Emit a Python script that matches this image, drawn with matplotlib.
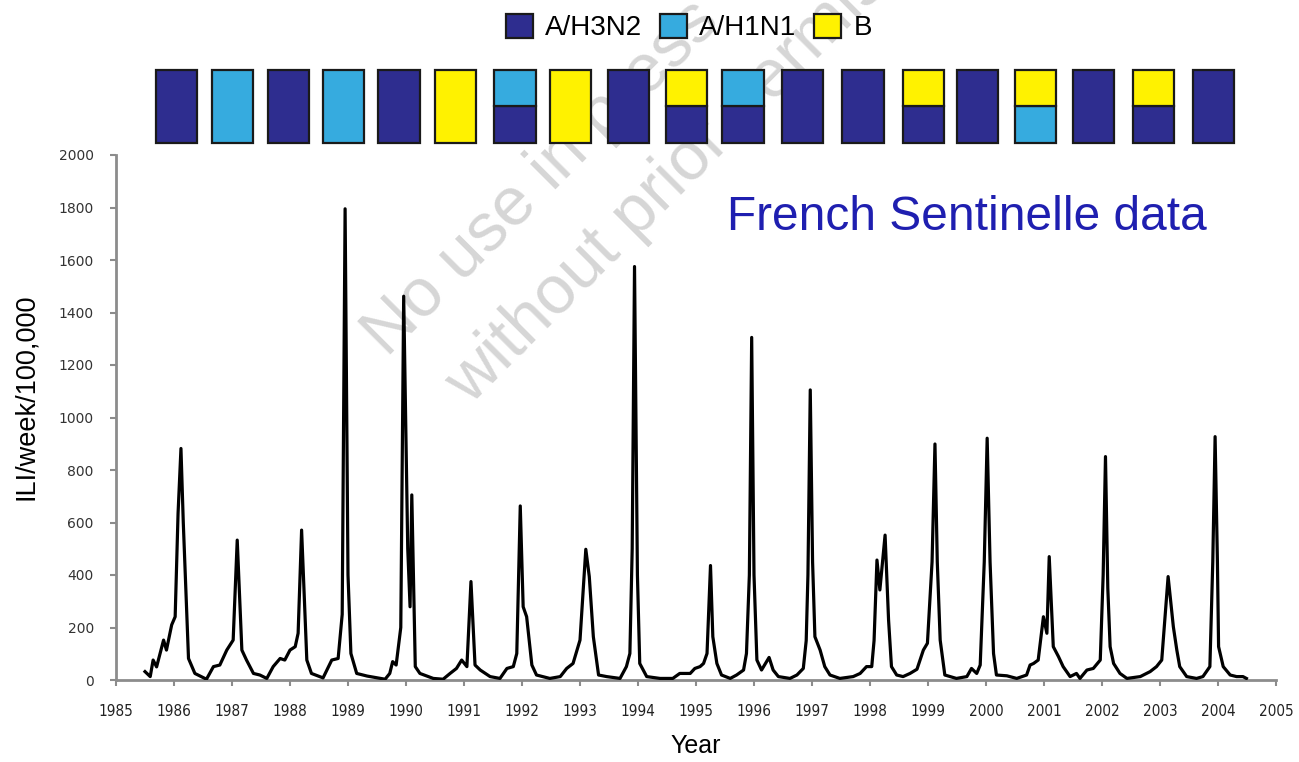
import matplotlib
matplotlib.use("Agg")
import matplotlib.pyplot as plt
import matplotlib.transforms as mtransforms
from matplotlib.patches import Rectangle, Patch

# weekly ILI incidence, read as (decimal year, cases per 100,000) turning points
years = [
    1985.50, 1985.59, 1985.64, 1985.70, 1985.82, 1985.87, 1985.96, 1986.02, 1986.07, 1986.12,
    1986.16, 1986.25, 1986.36, 1986.56, 1986.68, 1986.79, 1986.91, 1987.02, 1987.09, 1987.17,
    1987.25, 1987.37, 1987.48, 1987.60, 1987.71, 1987.83, 1987.91, 1988.00, 1988.09, 1988.14,
    1988.20, 1988.29, 1988.37, 1988.57, 1988.72, 1988.83, 1988.90, 1988.95, 1989.00, 1989.05,
    1989.15, 1989.33, 1989.64, 1989.72, 1989.77, 1989.83, 1989.91, 1989.96, 1990.03, 1990.07,
    1990.10, 1990.16, 1990.24, 1990.47, 1990.64, 1990.76, 1990.87, 1990.96, 1991.05, 1991.12,
    1991.19, 1991.28, 1991.45, 1991.62, 1991.74, 1991.85, 1991.91, 1991.97, 1992.02, 1992.08,
    1992.17, 1992.25, 1992.48, 1992.66, 1992.77, 1992.88, 1993.00, 1993.10, 1993.16, 1993.23,
    1993.32, 1993.46, 1993.69, 1993.80, 1993.86, 1993.90, 1993.94, 1993.99, 1994.03, 1994.15,
    1994.38, 1994.60, 1994.72, 1994.90, 1994.98, 1995.07, 1995.13, 1995.19, 1995.25, 1995.29,
    1995.36, 1995.44, 1995.59, 1995.70, 1995.82, 1995.87, 1995.92, 1995.96, 1996.00, 1996.05,
    1996.13, 1996.26, 1996.33, 1996.42, 1996.62, 1996.74, 1996.85, 1996.90, 1996.93, 1996.97,
    1997.01, 1997.05, 1997.14, 1997.22, 1997.31, 1997.48, 1997.71, 1997.83, 1997.94, 1998.03,
    1998.07, 1998.12, 1998.17, 1998.26, 1998.32, 1998.37, 1998.46, 1998.57, 1998.69, 1998.81,
    1998.92, 1998.99, 1999.07, 1999.12, 1999.16, 1999.21, 1999.29, 1999.49, 1999.67, 1999.75,
    1999.84, 1999.90, 1999.97, 2000.02, 2000.07, 2000.13, 2000.18, 2000.36, 2000.53, 2000.70,
    2000.76, 2000.82, 2000.90, 2000.99, 2001.05, 2001.09, 2001.16, 2001.25, 2001.33, 2001.45,
    2001.56, 2001.62, 2001.74, 2001.85, 2001.97, 2002.02, 2002.06, 2002.10, 2002.14, 2002.20,
    2002.31, 2002.43, 2002.66, 2002.83, 2002.94, 2003.03, 2003.14, 2003.23, 2003.29, 2003.34,
    2003.46, 2003.63, 2003.74, 2003.86, 2003.91, 2003.95, 2003.99, 2004.01, 2004.09, 2004.21,
    2004.32, 2004.43, 2004.49,
]
ili = [
    32, 13, 76, 50, 152, 114, 210, 241, 635, 882,
    600, 82, 25, 3, 51, 57, 114, 152, 533, 114,
    76, 25, 19, 6, 51, 82, 76, 114, 127, 178,
    571, 76, 25, 8, 76, 82, 250, 1795, 400, 101,
    25, 15, 3, 25, 70, 57, 200, 1462, 500, 279,
    705, 51, 25, 6, 3, 25, 44, 76, 51, 375,
    57, 38, 13, 6, 44, 51, 101, 663, 279, 241,
    57, 19, 6, 13, 44, 63, 152, 498, 394, 165,
    19, 13, 6, 51, 101, 500, 1575, 400, 63, 13,
    6, 6, 25, 25, 44, 51, 63, 101, 436, 165,
    63, 19, 6, 19, 38, 101, 400, 1305, 400, 76,
    38, 86, 38, 13, 6, 19, 44, 150, 400, 1105,
    450, 165, 114, 51, 19, 6, 13, 25, 51, 51,
    150, 457, 343, 552, 229, 51, 19, 13, 25, 41,
    114, 140, 450, 899, 450, 152, 19, 6, 13, 44,
    25, 57, 450, 921, 450, 101, 19, 16, 6, 19,
    57, 63, 76, 241, 178, 470, 127, 89, 51, 13,
    25, 6, 38, 44, 76, 400, 851, 350, 127, 63,
    25, 6, 13, 32, 51, 76, 394, 203, 114, 51,
    13, 6, 13, 51, 450, 927, 450, 127, 51, 19,
    13, 13, 6,
]

# dominant circulating subtypes per season (top part, bottom part)
season_top = ["H3N2", "H1N1", "H3N2", "H1N1", "H3N2", "B", "H1N1", "B", "H3N2", "B",
              "H1N1", "H3N2", "H3N2", "B", "H3N2", "B", "H3N2", "B", "H3N2"]
season_bottom = ["H3N2", "H1N1", "H3N2", "H1N1", "H3N2", "B", "H3N2", "B", "H3N2", "H3N2",
                 "H3N2", "H3N2", "H3N2", "H3N2", "H3N2", "H1N1", "H3N2", "H3N2", "H3N2"]
box_x = [1986.04, 1987.01, 1987.98, 1988.92, 1989.88, 1990.86, 1991.88, 1992.84, 1993.83, 1994.84,
         1995.81, 1996.84, 1997.88, 1998.92, 1999.86, 2000.85, 2001.86, 2002.89, 2003.92]

subtype_colors = {"H3N2": "#2e2d8f", "H1N1": "#36abdf", "B": "#fff200"}
subtype_labels = {"H3N2": "A/H3N2", "H1N1": "A/H1N1", "B": "B"}

W, H = 1299, 762
fig = plt.figure(figsize=(W / 100, H / 100), dpi=100)
ax = fig.add_axes([116 / W, 1 - 680 / H, 1160 / W, 525 / H])
ax.patch.set_alpha(0)

ax.plot(years, ili, color="black", lw=2.3, solid_joinstyle="round", zorder=3)

ax.set_xlim(1985, 2005)
ax.set_ylim(0, 2000)
ax.set_xticks(range(1985, 2006))
ax.set_yticks(range(0, 2001, 200))
for side in ["top", "right"]:
    ax.spines[side].set_visible(False)
for side in ["left", "bottom"]:
    ax.spines[side].set_color("#8c8c8c")
    ax.spines[side].set_linewidth(2)
ax.tick_params(axis="both", colors="#8c8c8c", width=1.5, length=4)
ax.tick_params(axis="x", pad=13, labelcolor="#222222")
ax.tick_params(axis="y", pad=12, labelcolor="#333333")
for lab in ax.get_xticklabels():
    lab.set_fontfamily("DejaVu Sans")
    lab.set_fontstretch("condensed")
    lab.set_fontsize(11)
for lab in ax.get_yticklabels():
    lab.set_fontfamily("DejaVu Sans")
    lab.set_fontsize(10)

ax.set_xlabel("Year", fontsize=18, family="Liberation Sans", labelpad=11)
ax.set_ylabel("ILI/week/100,000", fontsize=19.5, family="Liberation Sans")
ax.yaxis.set_label_coords(-0.066, 0.54)

ax.text(0.527, 0.88, "French Sentinelle data", transform=ax.transAxes,
        fontsize=34.5, family="Liberation Sans", color="#1f1fb0", va="center", ha="left")

# season boxes above the plot, split in half when two subtypes co-circulated
trans = mtransforms.blended_transform_factory(ax.transData, ax.transAxes)
bw, y0, bh = 0.71, 1.023, 0.139
box_style = dict(transform=trans, clip_on=False, edgecolor="#1a1a1a", lw=1.6, zorder=2)
for cx, top, bottom in zip(box_x, season_top, season_bottom):
    if top == bottom:
        ax.add_patch(Rectangle((cx - bw / 2, y0), bw, bh,
                               facecolor=subtype_colors[top], **box_style))
    else:
        ax.add_patch(Rectangle((cx - bw / 2, y0), bw, bh / 2,
                               facecolor=subtype_colors[bottom], **box_style))
        ax.add_patch(Rectangle((cx - bw / 2, y0 + bh / 2), bw, bh / 2,
                               facecolor=subtype_colors[top], **box_style))

handles = [Patch(facecolor=subtype_colors[k], edgecolor="#1a1a1a", lw=1.6, label=subtype_labels[k])
           for k in ["H3N2", "H1N1", "B"]]
ax.legend(handles=handles, loc="center", bbox_to_anchor=(0.494, 1.243), ncol=3, frameon=False,
          prop={"family": "Liberation Sans", "size": 20}, handlelength=0.95, handleheight=0.95,
          handletextpad=0.45, columnspacing=0.65, borderaxespad=0)

# watermark, drawn under the curve and the season boxes
wm_style = dict(transform=fig.transFigure, rotation=45, rotation_mode="anchor",
                fontsize=49, family="Liberation Sans", color="#d6d6d6",
                ha="left", va="baseline", zorder=0.5)
ax.text(387 / W, 1 - 358 / H, "No use in press", **wm_style)
ax.text(470 / W, 1 - 406 / H, "without prior permission", **wm_style)

fig.savefig("out.png", dpi=100)
